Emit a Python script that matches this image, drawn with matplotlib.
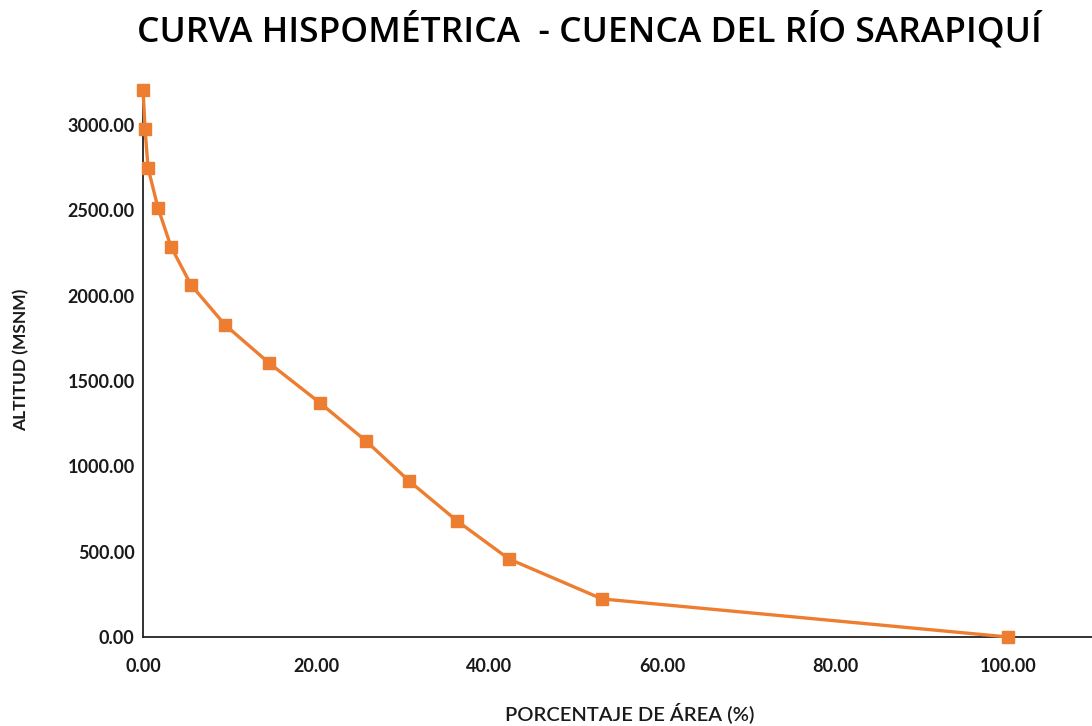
import matplotlib.pyplot as plt
from matplotlib.ticker import FuncFormatter

# Curva hipsométrica - Cuenca del Río Sarapiquí
area_pct = [0.0, 0.23, 0.58, 1.73, 3.24, 5.55, 9.48, 14.57, 20.46, 25.78,
            30.75, 36.3, 42.3, 53.06, 100.0]
altitud = [3204, 2976, 2747, 2513, 2285, 2062, 1828, 1605, 1371, 1148,
           914, 680, 457, 223, 0]
x_ticks = [0, 20, 40, 60, 80, 100]
y_ticks = [0, 500, 1000, 1500, 2000, 2500, 3000]

plt.rcParams["font.family"] = ["Open Sans", "DejaVu Sans"]

fig = plt.figure(figsize=(10.92, 7.26), dpi=100)
ax = fig.add_axes([0.131, 0.1226, 0.869, 0.7534])

ax.plot(area_pct, altitud, color="#ED7D31", linewidth=2.4, marker="s",
        markersize=9, clip_on=False, zorder=3)

ax.set_xlim(0, 109.7)
ax.set_ylim(0, 3204)
ax.set_xticks(x_ticks)
ax.set_yticks(y_ticks)
fmt = FuncFormatter(lambda v, p: f"{v:.2f}")
ax.xaxis.set_major_formatter(fmt)
ax.yaxis.set_major_formatter(fmt)
ax.tick_params(length=0, colors="#1a1a1a")
ax.tick_params(axis="x", pad=15)
ax.tick_params(axis="y", pad=6)
for lab in ax.get_xticklabels() + ax.get_yticklabels():
    lab.set_fontfamily(["Lato", "DejaVu Sans"])
    lab.set_fontweight("bold")
    lab.set_fontsize(13)

for s in ["top", "right"]:
    ax.spines[s].set_visible(False)
for s in ["left", "bottom"]:
    ax.spines[s].set_color("#222222")
    ax.spines[s].set_linewidth(1.3)

fig.text(0.54, 0.958, "CURVA HISPOMÉTRICA  - CUENCA DEL RÍO SARAPIQUÍ",
         ha="center", va="center", fontsize=25.5, fontweight="semibold")
fig.text(0.577, 0.019, "PORCENTAJE DE ÁREA (%)", ha="center", va="center",
         fontsize=14.5, color="#1a1a1a", fontfamily=["Lato", "DejaVu Sans"],
         fontweight="semibold")
fig.text(0.019, 0.504, "ALTITUD (MSNM)", ha="center", va="center",
         rotation=90, fontsize=12.5, fontweight="bold", color="#1a1a1a",
         fontfamily=["Lato", "DejaVu Sans"])

fig.savefig("out.png", dpi=100)
